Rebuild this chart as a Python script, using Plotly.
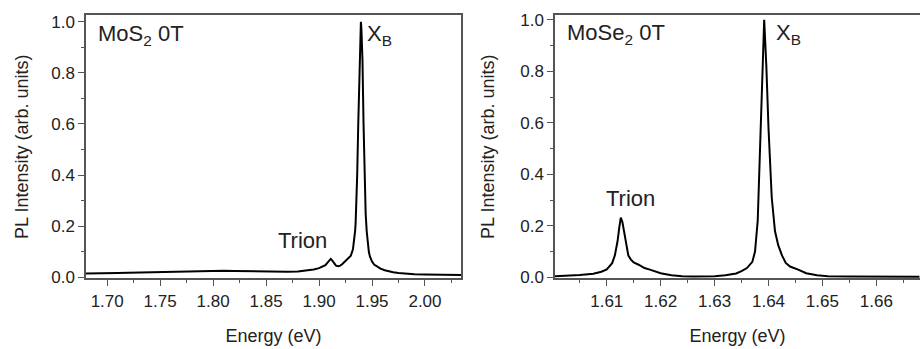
import plotly.graph_objects as go

# ---------------- data ----------------
mos2_energy = [1.680, 1.690, 1.700, 1.710, 1.720, 1.730, 1.740, 1.750, 1.760, 1.770,
               1.780, 1.790, 1.800, 1.810, 1.820, 1.830, 1.840, 1.850, 1.860, 1.870,
               1.880, 1.890, 1.895, 1.900, 1.903, 1.906, 1.908, 1.910, 1.911, 1.912,
               1.914, 1.916, 1.918, 1.920, 1.922, 1.924, 1.926, 1.928, 1.930, 1.932,
               1.933, 1.934, 1.9345, 1.935, 1.936, 1.937, 1.938, 1.939, 1.9395, 1.940,
               1.941, 1.942, 1.943, 1.944, 1.945, 1.946, 1.947, 1.948, 1.950, 1.952,
               1.955, 1.958, 1.962, 1.966, 1.970, 1.975, 1.980, 1.990, 2.000, 2.010,
               2.020, 2.034]
mos2_pl = [0.015, 0.015, 0.016, 0.017, 0.018, 0.019, 0.020, 0.021, 0.022, 0.024,
           0.025, 0.026, 0.027, 0.026, 0.025, 0.024, 0.023, 0.023, 0.022, 0.022,
           0.023, 0.027, 0.031, 0.036, 0.041, 0.048, 0.058, 0.069, 0.072, 0.068,
           0.055, 0.046, 0.044, 0.046, 0.052, 0.060, 0.068, 0.076, 0.085, 0.110,
           0.140, 0.180, 0.210, 0.260, 0.400, 0.600, 0.800, 0.970, 1.000, 0.970,
           0.850, 0.600, 0.370, 0.250, 0.180, 0.135, 0.100, 0.082, 0.062, 0.050,
           0.041, 0.034, 0.028, 0.023, 0.020, 0.017, 0.015, 0.012, 0.011, 0.010,
           0.009, 0.009]

mose2_energy = [1.6004, 1.603, 1.605, 1.6075, 1.609, 1.610, 1.611, 1.6115, 1.612, 1.6123,
                1.6126, 1.6129, 1.6132, 1.6135, 1.6140, 1.6145, 1.615, 1.616, 1.617, 1.618,
                1.619, 1.620, 1.622, 1.624, 1.626, 1.628, 1.630, 1.632, 1.634, 1.635,
                1.636, 1.637, 1.6375, 1.638, 1.6384, 1.6388, 1.6392, 1.6396, 1.6400, 1.6406,
                1.6412, 1.6418, 1.6425, 1.6432, 1.644, 1.6455, 1.647, 1.649, 1.651, 1.655,
                1.660, 1.668]
mose2_pl = [0.004, 0.006, 0.009, 0.014, 0.022, 0.031, 0.055, 0.085, 0.140, 0.190,
            0.232, 0.215, 0.180, 0.130, 0.085, 0.068, 0.058, 0.048, 0.036, 0.030,
            0.024, 0.016, 0.008, 0.004, 0.003, 0.003, 0.004, 0.008, 0.015, 0.024,
            0.036, 0.060, 0.100, 0.220, 0.500, 0.800, 1.000, 0.820, 0.580, 0.310,
            0.180, 0.125, 0.085, 0.056, 0.042, 0.030, 0.016, 0.008, 0.004, 0.003,
            0.003, 0.002]

y_ticks = [0.0, 0.2, 0.4, 0.6, 0.8, 1.0]
mos2_x_ticks = [1.70, 1.75, 1.80, 1.85, 1.90, 1.95, 2.00]
mose2_x_ticks = [1.61, 1.62, 1.63, 1.64, 1.65, 1.66]

# ---------------- figure ----------------
W, H = 920, 349
FONT = "Liberation Sans, Arial, sans-serif"
AXC = "#555555"
TXT = "#222222"

def px(x):
    return x / W

def py(y):
    return 1 - y / H

fig = go.Figure()
fig.add_trace(go.Scatter(x=mos2_energy, y=mos2_pl, mode="lines",
                         line=dict(color="black", width=2), xaxis="x", yaxis="y",
                         showlegend=False))
fig.add_trace(go.Scatter(x=mose2_energy, y=mose2_pl, mode="lines",
                         line=dict(color="black", width=2), xaxis="x2", yaxis="y2",
                         showlegend=False))

ydom = [py(285), py(11.5)]

common_axis = dict(showline=True, linecolor=AXC, linewidth=1.5, ticks="outside",
                   ticklen=6, tickwidth=1.2, tickcolor=AXC, showgrid=False,
                   zeroline=False, tickfont=dict(family=FONT, size=17, color=TXT))

fig.update_layout(
    width=W, height=H, margin=dict(l=0, r=0, t=0, b=0),
    paper_bgcolor="white", plot_bgcolor="white",
    font=dict(family=FONT, color=TXT),
    xaxis=dict(domain=[px(86), px(461)], range=[1.680, 2.034], anchor="y",
               tickvals=mos2_x_ticks, tickformat=".2f", mirror=True,
               minor=dict(dtick=0.025, tick0=1.70, ticks="outside", ticklen=3,
                          tickcolor=AXC, tickwidth=1.2),
               title=dict(text="Energy (eV)", font=dict(family=FONT, size=18, color=TXT),
                          standoff=20),
               **common_axis),
    yaxis=dict(domain=ydom, range=[-0.004, 1.026], anchor="x",
               tickvals=y_ticks, tickformat=".1f", mirror=True,
               minor=dict(dtick=0.1, tick0=0, ticks="outside", ticklen=3,
                          tickcolor=AXC, tickwidth=1.2),
               title=dict(text="PL Intensity (arb. units)",
                          font=dict(family=FONT, size=18, color=TXT), standoff=18),
               **common_axis),
    xaxis2=dict(domain=[px(555), 1.0], range=[1.6004, 1.6681], anchor="y2",
                tickvals=mose2_x_ticks, tickformat=".2f", mirror=True,
                minor=dict(dtick=0.005, tick0=1.60, ticks="outside", ticklen=3,
                           tickcolor=AXC, tickwidth=1.2),
                title=dict(text="Energy (eV)", font=dict(family=FONT, size=18, color=TXT),
                           standoff=20),
                **common_axis),
    yaxis2=dict(domain=ydom, range=[-0.004, 1.018], anchor="x2",
                tickvals=y_ticks, tickformat=".1f", mirror=False,
                minor=dict(dtick=0.1, tick0=0, ticks="outside", ticklen=3,
                           tickcolor=AXC, tickwidth=1.2),
                title=dict(text="PL Intensity (arb. units)",
                           font=dict(family=FONT, size=18, color=TXT), standoff=21),
                **common_axis),
)

ann_font = dict(family=FONT, size=22, color=TXT)
annotations = [
    dict(text="MoS<sub>2</sub> 0T", x=px(97), y=py(17), xanchor="left", yanchor="top"),
    dict(text="X<sub>B</sub>", x=px(366), y=py(17), xanchor="left", yanchor="top"),
    dict(text="Trion", x=px(302.5), y=py(246), xanchor="center", yanchor="middle"),
    dict(text="MoSe<sub>2</sub> 0T", x=px(566), y=py(16), xanchor="left", yanchor="top"),
    dict(text="X<sub>B</sub>", x=px(775), y=py(16), xanchor="left", yanchor="top"),
    dict(text="Trion", x=px(630.5), y=py(202), xanchor="center", yanchor="middle"),
]
for a in annotations:
    fig.add_annotation(xref="paper", yref="paper", showarrow=False, font=ann_font,
                       borderpad=0, **a)

fig.write_html("out.html")
